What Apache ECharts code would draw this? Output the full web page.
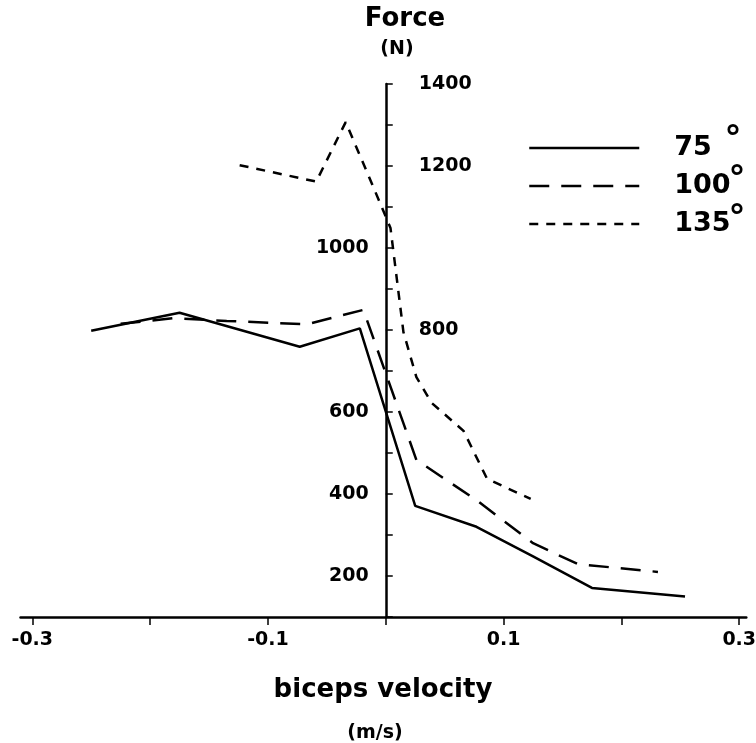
<!DOCTYPE html>
<html><head><meta charset="utf-8">
<script src="https://cdn.jsdelivr.net/npm/echarts@6/dist/echarts.min.js"></script>
<style>html,body{margin:0;padding:0;background:#fff}#chart{width:756px;height:743px}</style>
</head><body><div id="chart"></div>
<script>
// ---- data ----
const seriesNames = ['75', '100', '135'];
const x75  = [-0.25, -0.175, -0.073, -0.022, 0.025, 0.077, 0.125, 0.175, 0.254];
const y75  = [798, 842, 759, 804, 371, 320, 248, 171, 150];
const x100 = [-0.225, -0.18, -0.135, -0.067, -0.019, 0.026, 0.077, 0.125, 0.163, 0.231];
const y100 = [815, 829, 822, 814, 849, 483, 385, 280, 229, 210];
const x135 = [-0.124, -0.059, -0.034, -0.010, 0.004, 0.015, 0.026, 0.039, 0.066, 0.086, 0.123];
const y135 = [1202, 1162, 1307, 1145, 1049, 795, 685, 622, 554, 437, 388];
const xTickValues  = [-0.3, -0.2, -0.1, 0, 0.1, 0.2, 0.3];
const xLabelValues = [-0.3, -0.1, 0.1, 0.3];
const yLeftLabels  = [1000, 600, 400, 200];
const yRightLabels = [1400, 1200, 800];
const yTitle = 'Force';
const yUnit = '(N)';
const xTitle = 'biceps velocity';
const xUnit = '(m/s)';

const FONT = 'DejaVu Sans';
const pairs = (xs, ys) => xs.map((x, i) => [x, ys[i]]);
const lineTypes = ['solid', [20, 12], [9, 8]];
const dataSets = [pairs(x75, y75), pairs(x100, y100), pairs(x135, y135)];

const X_MIN = -0.31, X_MAX = 0.306;
const GRID_LEFT = 20.5, GRID_RIGHT = 9.7;
const W = 756;
// pixel distance from grid left edge to x = 0 (so the y axis sits on x = 0)
const zeroOffset = (0 - X_MIN) / (X_MAX - X_MIN) * (W - GRID_LEFT - GRID_RIGHT);

const labelStyle = {color: '#000', fontFamily: FONT, fontWeight: 'bold', fontSize: 19};

const chart = echarts.init(document.getElementById('chart'));
chart.setOption({
  animation: false,
  backgroundColor: '#fff',
  grid: {left: GRID_LEFT, right: GRID_RIGHT, top: 84, bottom: 126, containLabel: false, outerBoundsMode: 'none'},
  xAxis: {
    type: 'value', min: X_MIN, max: X_MAX,
    axisLine: {onZero: false, lineStyle: {color: '#000', width: 2.5}},
    axisTick: {show: true, customValues: xTickValues, length: 8, lineStyle: {color: '#000', width: 1.5}},
    axisLabel: Object.assign({customValues: xLabelValues, margin: 14}, labelStyle),
    splitLine: {show: false}
  },
  yAxis: [
    {
      type: 'value', min: 100, max: 1400, interval: 100, position: 'left', offset: -zeroOffset,
      axisLine: {show: true, onZero: false, lineStyle: {color: '#000', width: 2.5}},
      axisTick: {show: true, inside: true, length: 7, lineStyle: {color: '#000', width: 1.5}},
      axisLabel: Object.assign({margin: 17, formatter: v => yLeftLabels.includes(v) ? String(v) : ''}, labelStyle),
      splitLine: {show: false}
    },
    {
      type: 'value', min: 100, max: 1400, interval: 100, position: 'left', offset: -zeroOffset,
      axisLine: {show: false, onZero: false},
      axisTick: {show: false},
      axisLabel: Object.assign({inside: true, margin: 33, formatter: v => yRightLabels.includes(v) ? String(v) : ''}, labelStyle),
      splitLine: {show: false}
    }
  ],
  legend: {
    orient: 'vertical', left: 528, top: 133, padding: 0, itemWidth: 110, itemHeight: 14, itemGap: 8,
    selectedMode: false,
    lineStyle: {width: 2.5},
    itemStyle: {color: 'rgba(0,0,0,0)', borderWidth: 0, opacity: 0},
    textStyle: {color: '#000', fontFamily: FONT, fontWeight: 'bold', fontSize: 27, lineHeight: 30, padding: [0, 0, 0, 30]},
    data: seriesNames
  },
  series: seriesNames.map((n, i) => ({
    name: n, type: 'line', symbol: 'none', data: dataSets[i],
    lineStyle: {color: '#000', width: 2.5, type: lineTypes[i]},
    itemStyle: {color: '#000'}
  })),
  graphic: [
    {type: 'text', x: 405, y: 19, style: {text: yTitle, font: 'bold 26px "DejaVu Sans"', fill: '#000', textAlign: 'center', textVerticalAlign: 'middle'}},
    {type: 'text', x: 397, y: 49, style: {text: yUnit, font: 'bold 19px "DejaVu Sans"', fill: '#000', textAlign: 'center', textVerticalAlign: 'middle'}},
    {type: 'text', x: 383, y: 690, style: {text: xTitle, font: 'bold 26px "DejaVu Sans"', fill: '#000', textAlign: 'center', textVerticalAlign: 'middle'}},
    {type: 'text', x: 375, y: 733, style: {text: xUnit, font: 'bold 19px "DejaVu Sans"', fill: '#000', textAlign: 'center', textVerticalAlign: 'middle'}},
    {type: 'text', x: 733, y: 140, style: {text: '°', font: 'bold 34px "DejaVu Sans"', fill: '#000', textAlign: 'center', textVerticalAlign: 'middle'}},
    {type: 'text', x: 737, y: 180, style: {text: '°', font: 'bold 34px "DejaVu Sans"', fill: '#000', textAlign: 'center', textVerticalAlign: 'middle'}},
    {type: 'text', x: 737, y: 219, style: {text: '°', font: 'bold 34px "DejaVu Sans"', fill: '#000', textAlign: 'center', textVerticalAlign: 'middle'}}
  ]
});
</script>
</body></html>
